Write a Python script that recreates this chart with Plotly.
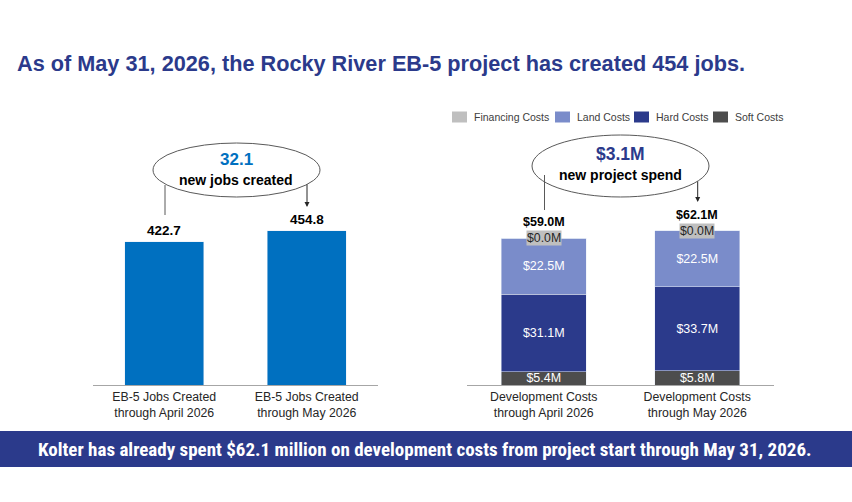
import plotly.graph_objects as go

W, H = 852, 502

# left chart: EB-5 jobs created
job_cats = ["EB-5 Jobs Created<br>through April 2026", "EB-5 Jobs Created<br>through May 2026"]
job_values = [422.7, 454.8]
new_jobs = "32.1"

# right chart: development costs in $M (stack order bottom -> top)
cost_cats = ["Development Costs<br>through April 2026", "Development Costs<br>through May 2026"]
soft_costs = [5.4, 5.8]
hard_costs = [31.1, 33.7]
land_costs = [22.5, 22.5]
financing_costs = [0.0, 0.0]
cost_totals = [59.0, 62.1]
new_spend = "$3.1M"

series_names = ["Soft Costs", "Hard Costs", "Land Costs", "Financing Costs"]
series_values = [soft_costs, hard_costs, land_costs, financing_costs]
series_colors = ["#4D4D4D", "#2B3A8B", "#7A8CCA", "#BFBFBF"]

title_text = "As of May 31, 2026, the Rocky River EB-5 project has created 454 jobs."
banner_text = "Kolter has already spent $62.1 million on development costs from project start through May 31, 2026."

NAVY = "#2B3A8B"
BLUE = "#0070C0"
FONT = "Liberation Sans, Arial, sans-serif"
NARROW = "Liberation Sans Narrow, Arial Narrow, Roboto Condensed, Liberation Sans, sans-serif"


def px(x):
    return x / W


def py(y):
    return 1 - y / H


fig = go.Figure()

fig.add_trace(go.Bar(
    x=job_cats, y=job_values, marker_color=BLUE, width=0.555,
    showlegend=False, hoverinfo="skip", xaxis="x", yaxis="y",
))

for name, vals, col in zip(series_names, series_values, series_colors):
    show_text = name != "Financing Costs"
    fig.add_trace(go.Bar(
        x=cost_cats, y=vals, name=name, marker_color=col, width=0.555,
        text=[f"${v:.1f}M" for v in vals] if show_text else None,
        textposition="inside", insidetextanchor="middle", constraintext="none",
        textfont=dict(family=FONT, size=12.5, color="white"),
        showlegend=False, hoverinfo="skip", xaxis="x2", yaxis="y2",
    ))

axis_common = dict(
    showline=True, linecolor="#A6A6A6", linewidth=1, ticks="", showgrid=False,
    tickfont=dict(family=FONT, size=12.3, color="#262626"), fixedrange=True,
)

fig.update_layout(
    width=W, height=H,
    margin=dict(l=0, r=0, t=0, b=0),
    paper_bgcolor="white", plot_bgcolor="white",
    barmode="stack",
    showlegend=False,
    xaxis=dict(domain=[px(93), px(378)], anchor="y", **axis_common),
    yaxis=dict(domain=[py(385), py(130)], range=[0, 752], visible=False, fixedrange=True),
    xaxis2=dict(domain=[px(467), px(774)], anchor="y2", **axis_common),
    yaxis2=dict(domain=[py(385), py(130)], range=[0, 102.6], visible=False, fixedrange=True),
)

annotations = []
shapes = []

# title
annotations.append(dict(
    xref="paper", yref="paper", x=px(15), y=py(63), xanchor="left", yanchor="middle",
    text="<b>" + title_text + "</b>", showarrow=False,
    font=dict(family=FONT, size=21.7, color=NAVY),
))

# bottom banner
shapes.append(dict(type="rect", xref="paper", yref="paper", x0=0, x1=1,
                   y0=py(467), y1=py(431), fillcolor=NAVY, line_width=0, layer="below"))
annotations.append(dict(
    xref="paper", yref="paper", x=px(425), y=py(449), xanchor="center", yanchor="middle",
    text="<b>" + banner_text + "</b>", showarrow=False,
    font=dict(family=NARROW, size=19, color="white"),
))

# left value labels
for c, v in zip(job_cats, job_values):
    annotations.append(dict(
        xref="x", yref="y", x=c, y=v, yanchor="middle", yshift=11,
        text=f"<b>{v:.1f}</b>", showarrow=False,
        font=dict(family=FONT, size=13.5, color="black"),
    ))

# right total labels and financing boxes
for i, c in enumerate(cost_cats):
    top = soft_costs[i] + hard_costs[i] + land_costs[i] + financing_costs[i]
    annotations.append(dict(
        xref="x2", yref="y2", x=c, y=cost_totals[i], yanchor="middle", yshift=16,
        text=f"<b>${cost_totals[i]:.1f}M</b>", showarrow=False,
        font=dict(family=FONT, size=12.5, color="black"),
    ))
    annotations.append(dict(
        xref="x2", yref="y2", x=c, y=top, yanchor="middle",
        text=f"${financing_costs[i]:.1f}M", showarrow=False,
        bgcolor="#BFBFBF", borderpad=0,
        font=dict(family=FONT, size=12.3, color="#262626"),
    ))

# ellipses with change callouts
line_col = "#595959"
shapes.append(dict(type="circle", xref="paper", yref="paper",
                   x0=px(153), x1=px(320), y0=py(197), y1=py(143),
                   line=dict(color=line_col, width=1), fillcolor="rgba(0,0,0,0)"))
annotations.append(dict(xref="paper", yref="paper", x=px(236.5), y=py(160), showarrow=False,
                        xanchor="center", yanchor="middle",
                        text=f"<b>{new_jobs}</b>", font=dict(family=FONT, size=17, color=BLUE)))
annotations.append(dict(xref="paper", yref="paper", x=px(236.5), y=py(180), showarrow=False,
                        xanchor="center", yanchor="middle",
                        text="<b>new jobs created</b>", font=dict(family=FONT, size=14, color="black")))

shapes.append(dict(type="circle", xref="paper", yref="paper",
                   x0=px(532), x1=px(709), y0=py(197), y1=py(135),
                   line=dict(color=line_col, width=1), fillcolor="rgba(0,0,0,0)"))
annotations.append(dict(xref="paper", yref="paper", x=px(620.5), y=py(154), showarrow=False,
                        xanchor="center", yanchor="middle",
                        text=f"<b>{new_spend}</b>", font=dict(family=FONT, size=17.5, color=NAVY)))
annotations.append(dict(xref="paper", yref="paper", x=px(620.5), y=py(175), showarrow=False,
                        xanchor="center", yanchor="middle",
                        text="<b>new project spend</b>", font=dict(family=FONT, size=14, color="black")))

# connector lines from ellipses
shapes.append(dict(type="line", xref="paper", yref="paper", x0=px(165), x1=px(165),
                   y0=py(185), y1=py(215), line=dict(color=line_col, width=1)))
shapes.append(dict(type="line", xref="paper", yref="paper", x0=px(544.5), x1=px(544.5),
                   y0=py(175), y1=py(210), line=dict(color=line_col, width=1)))
for xa, tail, tip in [(307, 183, 207), (697.7, 180, 202)]:
    annotations.append(dict(
        xref="paper", yref="paper", x=px(xa), y=py(tip), ax=0, ay=-(tip - tail),
        text="", showarrow=True, arrowhead=2, arrowsize=1, arrowwidth=1,
        arrowcolor="#262626", standoff=0,
    ))

# legend (top right), order as in the original: top of stack first
legend_x = [452, 555, 634, 713]
for k, idx in enumerate([3, 2, 1, 0]):
    x0 = legend_x[k]
    shapes.append(dict(type="rect", xref="paper", yref="paper",
                       x0=px(x0), x1=px(x0 + 15), y0=py(122.5), y1=py(111.5),
                       fillcolor=series_colors[idx], line_width=0))
    annotations.append(dict(
        xref="paper", yref="paper", x=px(x0 + 20), y=py(117), xanchor="left", yanchor="middle",
        text=series_names[idx], showarrow=False,
        font=dict(family=FONT, size=10.5, color="#404040"),
    ))

fig.update_layout(annotations=annotations, shapes=shapes)

# drop the default page margin so the figure sits at the top-left corner
fig.write_html("out.html", config={"displayModeBar": False},
               post_script="document.body.style.margin='0';")
